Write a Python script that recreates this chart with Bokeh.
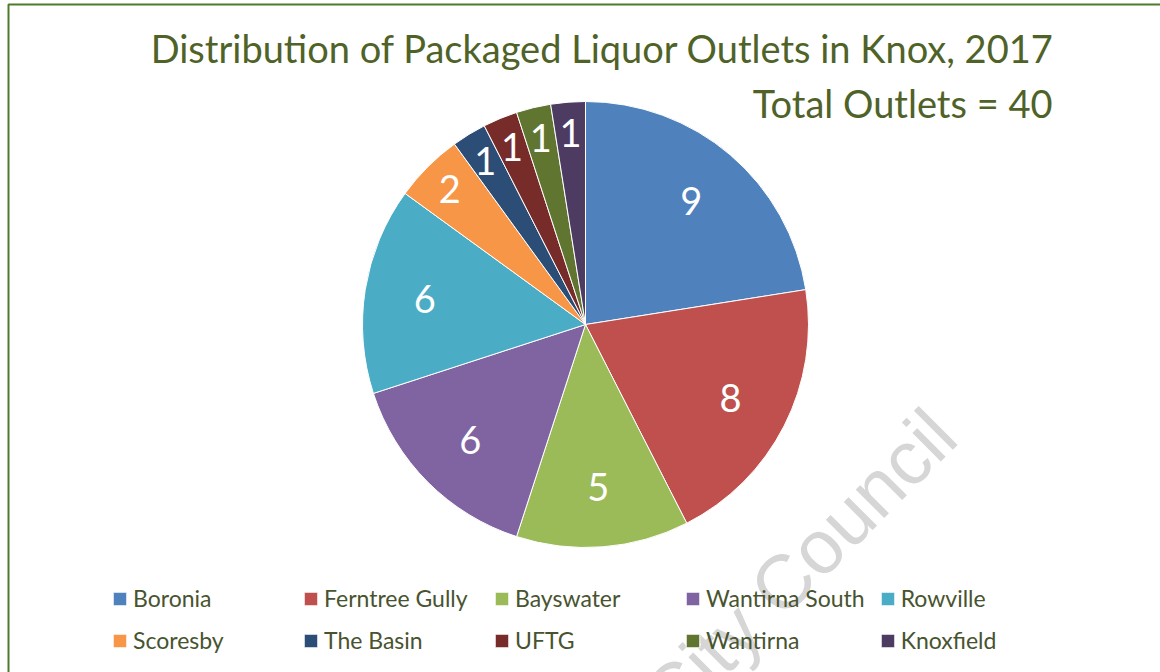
import math
from bokeh.plotting import figure
from bokeh.models import Range1d, Legend, LegendItem, Label, BoxAnnotation, ColumnDataSource
from bokeh.core.properties import value
from bokeh.embed import file_html
from bokeh.resources import INLINE

# ---- data ----
suburbs = ["Boronia", "Ferntree Gully", "Bayswater", "Wantirna South", "Rowville",
           "Scoresby", "The Basin", "UFTG", "Wantirna", "Knoxfield"]
outlets = [9, 8, 5, 6, 6, 2, 1, 1, 1, 1]
colors = ["#4F81BD", "#C0504D", "#9BBB59", "#8064A2", "#4BACC6",
          "#F79646", "#2C4D75", "#772C2A", "#5F7530", "#4D3B62"]
title_text = "Distribution of Packaged Liquor Outlets in Knox, 2017"
total_label = "Total Outlets"
watermark_text = "Knox City Council"

# ---- layout ----
W, H = 1160, 672
CX, CY, R = 585, H - 324, 223
TEXT_COLOR = "#4F6228"
FONT = "Lato"

total = sum(outlets)
starts, ends, lx, ly, labels = [], [], [], [], []
cum = 0
for v in outlets:
    a0 = math.pi / 2 - 2 * math.pi * cum / total
    cum += v
    a1 = math.pi / 2 - 2 * math.pi * cum / total
    starts.append(a1)
    ends.append(a0)
    mid = (a0 + a1) / 2
    frac = 0.73 if v >= 5 else 0.86
    lx.append(CX + frac * R * math.cos(mid))
    ly.append(CY + frac * R * math.sin(mid))
    labels.append(str(v))

src = ColumnDataSource(dict(suburb=suburbs, value=outlets, color=colors,
                            start=starts, end=ends, lx=lx, ly=ly, label=labels))

p = figure(width=W, height=H, x_range=Range1d(0, W), y_range=Range1d(0, H),
           output_backend="svg", toolbar_location=None, min_border=0)
p.axis.visible = False
p.grid.visible = False
p.outline_line_color = None
p.background_fill_color = "white"
p.border_fill_color = "white"

# watermark
p.text(x=[942], y=[H - 422], text=[watermark_text], angle=math.pi / 4,
       text_align="right", text_baseline="alphabetic",
       text_font=value("Liberation Sans"), text_font_size="76px",
       text_color="#d6d6d6")

wr = p.wedge(x=CX, y=CY, radius=R, start_angle="start", end_angle="end",
             direction="anticlock", fill_color="color", line_color="white",
             line_width=1, source=src)

p.text(x="lx", y="ly", text="label", source=src, text_align="center",
       text_baseline="middle", text_color="white", text_font=value(FONT),
       text_font_size="38px")

p.add_layout(Label(x=602, y=H - 47, text=title_text, text_align="center",
                   text_baseline="middle", text_font=FONT, text_font_size="38px",
                   text_color=TEXT_COLOR))
p.add_layout(Label(x=1052, y=H - 102, text=f"{total_label} = {total}", text_align="right",
                   text_baseline="middle", text_font=FONT, text_font_size="38px",
                   text_color=TEXT_COLOR))

items = [LegendItem(label=s, renderers=[wr], index=i) for i, s in enumerate(suburbs)]
legend = Legend(items=items, orientation="horizontal", ncols=5,
                location=(111, 18), padding=0, margin=0,
                glyph_width=17, glyph_height=17, label_standoff=5,
                label_width=155, label_height=28, spacing=14,
                label_text_font=FONT, label_text_font_size="23px",
                label_text_color="#48532F", background_fill_alpha=0,
                border_line_color=None)
p.add_layout(legend, "center")

p.add_layout(BoxAnnotation(left=8, right=W + 20, top=H - 4, bottom=-20,
                           fill_alpha=0, line_color="#4E7A2C", line_alpha=1,
                           line_width=2))

open("out.html", "w").write(file_html(p, INLINE))
